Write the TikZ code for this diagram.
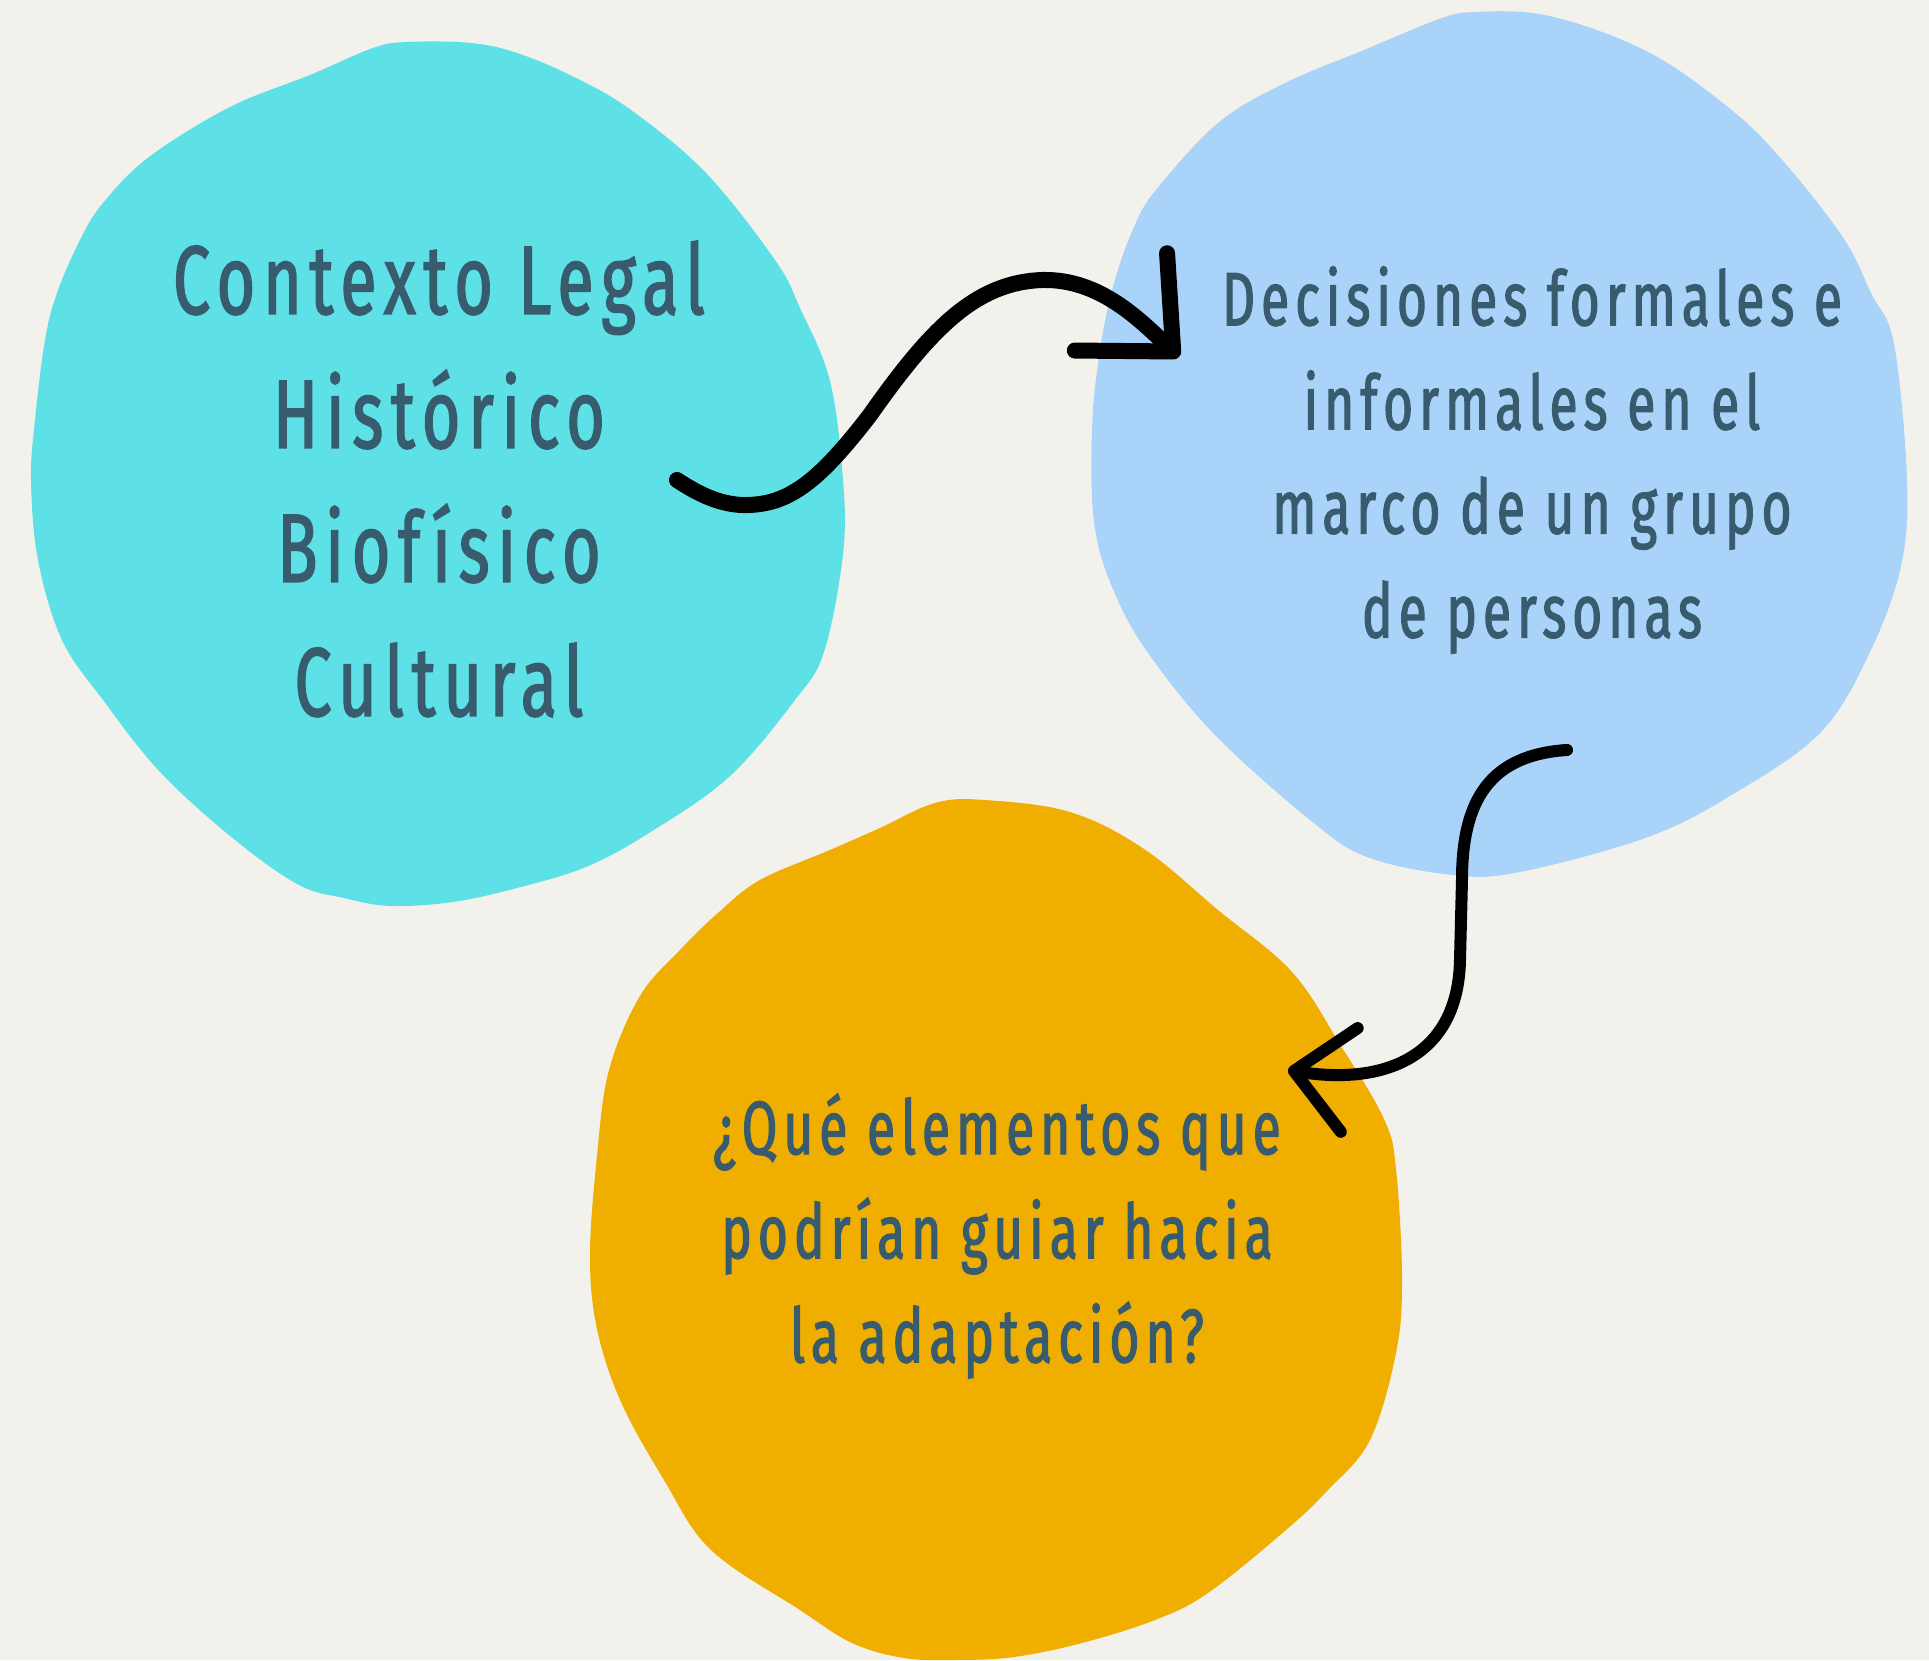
\documentclass[tikz,border=0pt]{standalone}
\usepackage{fontspec}
\usepackage{tikz}
\usetikzlibrary{arrows.meta,positioning}
\newfontfamily\handfont[FakeStretch=0.68,LetterSpace=8,FakeBold=1.6]{Fira Sans}
\newcommand{\bigtxt}{\handfont\fontsize{27.7}{38.1}\selectfont}
\newcommand{\smalltxt}{\handfont\fontsize{21.5}{29.6}\selectfont}
\definecolor{paper}{HTML}{F2F1EC}
\definecolor{aqua}{HTML}{5DE1E6}
\definecolor{sky}{HTML}{A9D3F8}
\definecolor{amber}{HTML}{F0AF00}
\definecolor{ink}{HTML}{385B6E}

\begin{document}
\begin{tikzpicture}[x=0.01cm, y=-0.01cm]
      % Define styles
      \tikzstyle{bigtext} = [font=\bigtxt, text=ink, align=center]
      \tikzstyle{smalltext} = [font=\smalltxt, text=ink, align=center]
      \tikzstyle{hand} = [draw=black, line cap=round, line join=round]

      % Background and blobs
      \fill[paper] (0,0) rectangle (1929,1660);
      \fill[aqua] plot[smooth cycle, tension=0.6] coordinates {(408,42) (471,43) (517,53) (574,77) (631,110) (706,173) (775,260) (800,308) (830,381) (843,480) (843,554) (824,652) (795,700) (729,777) (649,833) (586,867) (517,888) (453,902) (390,906) (344,898) (299,885) (235,840) (161,773) (103,700) (62,640) (38,560) (31,480) (35,420) (45,340) (57,293) (80,240) (103,203) (149,157) (230,107) (310,75) (373,48)};
      \fill[sky] plot[smooth cycle, tension=0.6] coordinates {(1476,12) (1532,13) (1588,27) (1650,53) (1706,90) (1767,143) (1840,233) (1871,293) (1894,344) (1907,480) (1901,566) (1870,652) (1821,732) (1735,793) (1648,837) (1520,872) (1453,875) (1367,857) (1310,820) (1218,738) (1156,664) (1119,603) (1095,529) (1092,430) (1100,350) (1114,283) (1134,227) (1156,190) (1218,123) (1285,83) (1364,50) (1442,18)};
      \fill[amber] plot[smooth cycle, tension=0.6] coordinates {(935,803) (984,800) (1070,812) (1144,849) (1218,910) (1292,972) (1341,1046) (1384,1119) (1396,1169) (1402,1279) (1396,1353) (1370,1440) (1328,1490) (1286,1530) (1208,1593) (1155,1620) (1082,1643) (1014,1657) (957,1660) (904,1658) (852,1643) (800,1610) (711,1550) (664,1480) (621,1402) (597,1329) (590,1255) (597,1156) (609,1070) (640,996) (680,950) (718,913) (760,880) (830,850) (880,828)};

      % Place texts
      \node [bigtext] (legal) at (439,479) {Contexto Legal\\Histórico\\Biofísico\\Cultural};
      \node [smalltext] (decisiones) at (1532,460) {Decisiones formales e\\informales en el\\marco de un grupo\\de personas};
      \node [smalltext] (pregunta) at (997,1236) {¿Qué elementos que\\podrían guiar hacia\\la adaptación?};

      % Ends of the arrows
      \coordinate (a1) at (677,480);
      \coordinate (b1) at (1179,357);
      \coordinate (a2) at (1567,750);
      \coordinate (b2) at (1288,1070);

      % Draw arrows
      \path [hand, line width=0.16cm, -{Straight Barb[length=0.72cm, width=1.34cm, round]}] (a1)
        .. controls (698,494) and (722,506) .. (748,505)
        .. controls (790,504) and (820,480) .. (870,415)
        .. controls (930,330) and (975,282) .. (1043,280)
        .. controls (1100,279) and (1140,320) .. (b1);
      \path [hand, line width=0.12cm, -{Straight Barb[length=0.56cm, width=1.05cm, round]}] (a2)
        .. controls (1490,755) and (1462,800) .. (1462,880)
        -- (1460,960)
        .. controls (1458,1060) and (1380,1085) .. (b2);
\end{tikzpicture}
\end{document}
